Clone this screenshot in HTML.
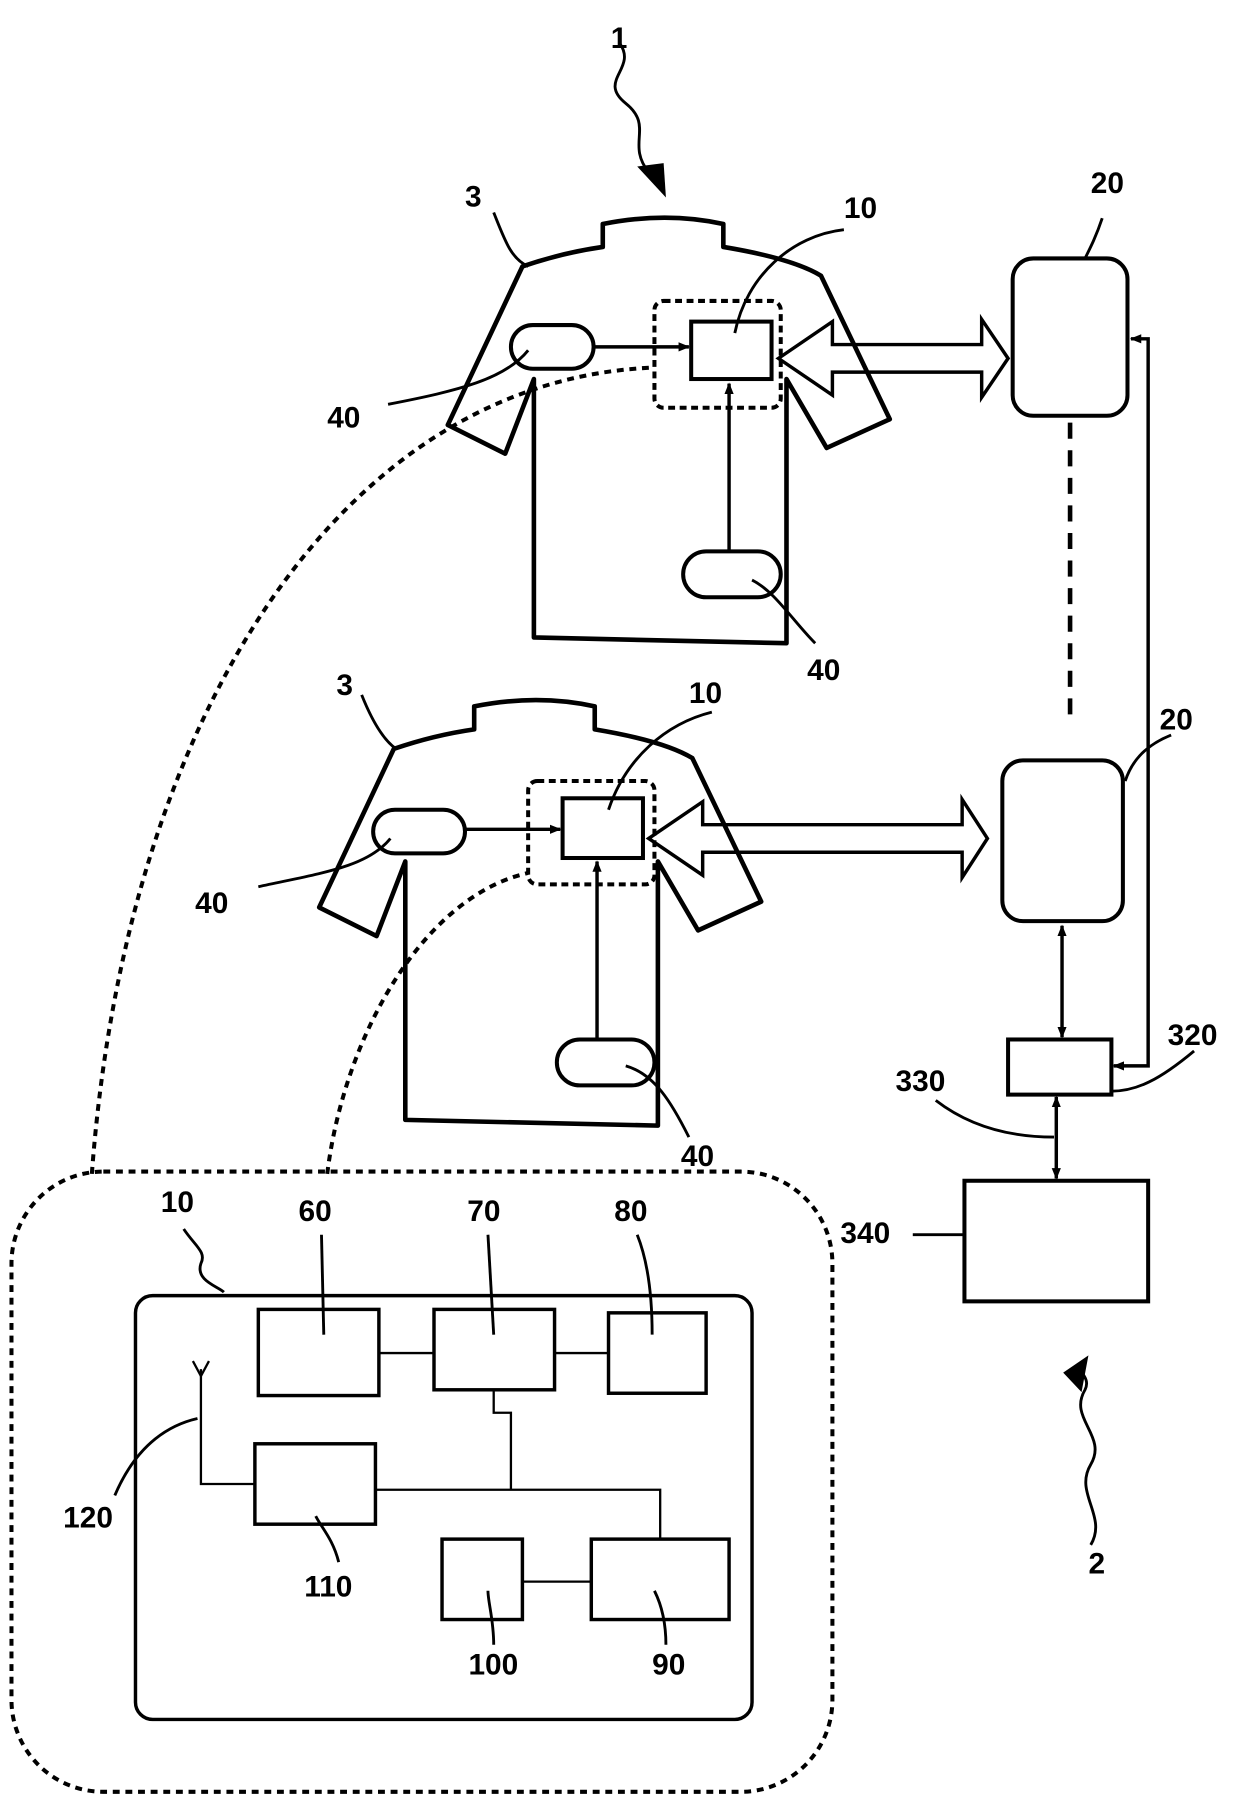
<!DOCTYPE html>
<html><head><meta charset="utf-8"><style>
html,body{margin:0;padding:0;background:#fff;}
svg{display:block;}
text{font-family:"Liberation Sans",sans-serif;font-weight:bold;font-size:26px;fill:#000;}
</style></head><body>
<svg width="1240" height="1801" viewBox="0 0 1080 1568" preserveAspectRatio="none" xmlns="http://www.w3.org/2000/svg">
<defs>
<marker id="ah" markerWidth="10" markerHeight="10" refX="9" refY="5" orient="auto" markerUnits="userSpaceOnUse"><path d="M0,1 L10,5 L0,9 Z" fill="#000"/></marker>
<marker id="ahs" markerWidth="10" markerHeight="10" refX="1" refY="5" orient="auto" markerUnits="userSpaceOnUse"><path d="M10,1 L0,5 L10,9 Z" fill="#000"/></marker>
<g id="shirt">
<path d="M525,215 L525,195 Q580,184 630,195 L630,215 Q690,225 715,240 L775,365 L720,390 L685,330 L685,560 L465,555 L465,330 L440,395 L390,370 L455,232 Q490,220 525,215 Z" fill="none" stroke="#000" stroke-width="4" stroke-linejoin="round"/>
</g>
</defs>
<g fill="none" stroke="#000" stroke-width="3.5">
<use href="#shirt"/>
<rect x="445" y="283" width="72" height="38" rx="19"/>
<rect x="602" y="280" width="70" height="50"/>
<rect x="570" y="262" width="110" height="93" rx="8" stroke-dasharray="6,4"/>
<rect x="595" y="480" width="85" height="40" rx="20"/>
<line x1="517" y1="302" x2="600" y2="302" marker-end="url(#ah)" stroke-width="3"/>
<line x1="635" y1="480" x2="635" y2="334" marker-end="url(#ah)" stroke-width="3"/>
<path d="M678,312 L725,280 L725,300 L855,300 L855,278 L878,312 L855,346 L855,324 L725,324 L725,344 Z" stroke-width="3"/>
<rect x="882" y="225" width="100" height="137" rx="18"/>
<g transform="translate(-112,420)"><use href="#shirt"/></g>
<rect x="325" y="705" width="80" height="38" rx="19"/>
<rect x="490" y="695" width="70" height="52"/>
<rect x="460" y="680" width="110" height="90" rx="8" stroke-dasharray="6,4"/>
<rect x="485" y="905" width="85" height="40" rx="20"/>
<line x1="405" y1="722" x2="488" y2="722" marker-end="url(#ah)" stroke-width="3"/>
<line x1="520" y1="905" x2="520" y2="750" marker-end="url(#ah)" stroke-width="3"/>
<path d="M565,730 L612,698 L612,718 L838,718 L838,696 L860,730 L838,764 L838,742 L612,742 L612,762 Z" stroke-width="3"/>
<rect x="873" y="662" width="105" height="140" rx="18"/>
<line x1="932" y1="368" x2="932" y2="630" stroke-dasharray="14,10" stroke-width="4"/>
<polyline points="985,295 1000,295 1000,928 970,928" stroke-width="3" marker-start="url(#ahs)" marker-end="url(#ah)"/>
<line x1="925" y1="806" x2="925" y2="903" stroke-width="3" marker-start="url(#ahs)" marker-end="url(#ah)"/>
<rect x="878" y="905" width="90" height="48"/>
<line x1="920" y1="955" x2="920" y2="1026" stroke-width="3" marker-start="url(#ahs)" marker-end="url(#ah)"/>
<rect x="840" y="1028" width="160" height="105"/>
<path d="M80,1022 C110,620 300,330 570,320" stroke-dasharray="6,5"/>
<path d="M285,1022 C300,900 370,780 460,760" stroke-dasharray="6,5"/>
<rect x="10" y="1020" width="715" height="540" rx="80" stroke-dasharray="6,5"/>
<rect x="118" y="1128" width="537" height="369" rx="15" stroke-width="3"/>
<g stroke-width="3">
<rect x="225" y="1140" width="105" height="75"/>
<rect x="378" y="1140" width="105" height="70"/>
<rect x="530" y="1143" width="85" height="70"/>
<rect x="222" y="1257" width="105" height="70"/>
<rect x="385" y="1340" width="70" height="70"/>
<rect x="515" y="1340" width="120" height="70"/>
</g>
<g stroke-width="2">
<line x1="330" y1="1178" x2="378" y2="1178"/>
<line x1="483" y1="1178" x2="530" y2="1178"/>
<polyline points="430,1210 430,1230 445,1230 445,1297"/>
<polyline points="327,1297 575,1297 575,1340"/>
<line x1="455" y1="1377" x2="515" y2="1377"/>
<polyline points="175,1192 175,1292 222,1292"/>
<polyline points="168,1185 175,1198 182,1185"/>
</g>
<g stroke-width="2.5">
<path d="M540,38 C555,60 520,70 545,90 C570,110 545,125 565,150" />
<path d="M950,1345 C965,1320 935,1300 950,1275 C965,1250 930,1235 945,1210 C950,1200 940,1195 940,1190"/>
<path d="M430,185 C440,210 445,225 460,232"/>
<path d="M735,200 C690,205 650,240 640,290"/>
<path d="M338,352 C400,340 440,330 460,305"/>
<path d="M710,560 C690,540 675,515 655,505"/>
<path d="M960,190 C955,205 950,215 945,225"/>
<path d="M315,605 C325,630 335,645 345,652"/>
<path d="M620,620 C580,630 545,660 530,705"/>
<path d="M225,772 C280,760 320,755 340,730"/>
<path d="M600,990 C585,960 570,935 545,928"/>
<path d="M1020,640 C995,650 985,665 980,680"/>
<path d="M1040,915 C1010,940 990,950 968,950"/>
<path d="M815,958 C850,985 890,990 918,990"/>
<line x1="795" y1="1075" x2="840" y2="1075"/>
<path d="M160,1070 C170,1085 180,1090 175,1100 C170,1115 190,1120 195,1125"/>
<line x1="280" y1="1075" x2="282" y2="1162"/>
<line x1="425" y1="1075" x2="430" y2="1162"/>
<path d="M555,1075 C565,1100 568,1130 568,1162"/>
<path d="M100,1302 C120,1255 150,1240 172,1235"/>
<path d="M295,1360 C290,1340 280,1330 275,1320"/>
<path d="M430,1432 C430,1410 425,1395 425,1385"/>
<path d="M580,1432 C580,1410 575,1395 570,1385"/>
</g>
</g>
<polygon points="555,145 580,172 578,142" fill="#000"/>
<polygon points="926,1195 948,1180 942,1212" fill="#000"/>
<text x="532" y="42">1</text>
<text x="405" y="180">3</text>
<text x="735" y="190">10</text>
<text x="285" y="372">40</text>
<text x="703" y="592">40</text>
<text x="950" y="168">20</text>
<text x="293" y="605">3</text>
<text x="600" y="612">10</text>
<text x="170" y="795">40</text>
<text x="593" y="1015">40</text>
<text x="1010" y="635">20</text>
<text x="1017" y="910">320</text>
<text x="780" y="950">330</text>
<text x="732" y="1082">340</text>
<text x="948" y="1370">2</text>
<text x="140" y="1055">10</text>
<text x="260" y="1063">60</text>
<text x="407" y="1063">70</text>
<text x="535" y="1063">80</text>
<text x="55" y="1330">120</text>
<text x="265" y="1390">110</text>
<text x="408" y="1458">100</text>
<text x="568" y="1458">90</text>
</svg>
</body></html>
